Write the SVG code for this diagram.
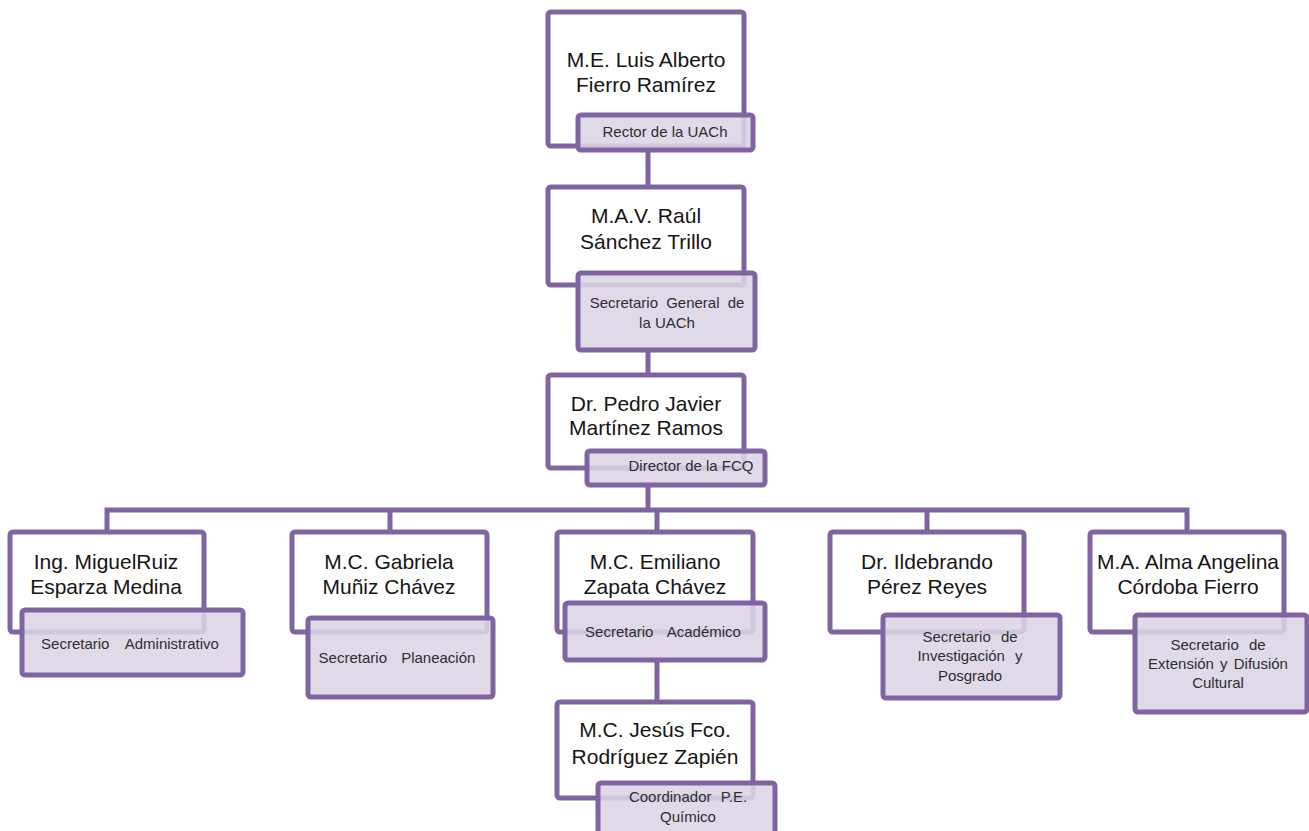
<svg xmlns="http://www.w3.org/2000/svg" width="1309" height="831" viewBox="0 0 1309 831">
<style>
.box{fill:#ffffff;stroke:#8064a2;stroke-width:5}
.lbl{fill:#dcd5e5;fill-opacity:0.88;stroke:#8064a2;stroke-width:5}
.name{font-family:"Liberation Sans",Arial,sans-serif;font-size:21px;fill:#151515;text-anchor:middle}
.sub{font-family:"Liberation Sans",Arial,sans-serif;font-size:15px;fill:#2e2e2e;text-anchor:middle}
.con{fill:none;stroke:#8064a2;stroke-width:5}
</style>
<rect width="1309" height="831" fill="#ffffff"/>
<g id="connectors">
<line class="con" x1="648" y1="148" x2="648" y2="187"/>
<line class="con" x1="648" y1="350" x2="648" y2="375"/>
<line class="con" x1="648" y1="485" x2="648" y2="510"/>
<polyline class="con" points="107,532 107,510 1187,510 1187,532"/>
<line class="con" x1="390" y1="510" x2="390" y2="532"/>
<line class="con" x1="657" y1="510" x2="657" y2="532"/>
<line class="con" x1="927" y1="510" x2="927" y2="532"/>
<line class="con" x1="657" y1="660" x2="657" y2="702"/>
</g>
<g id="rector">
<rect class="box" x="548" y="12" width="196" height="134" rx="3"/>
<rect class="lbl" x="578" y="115" width="175" height="35" rx="3"/>
<text class="name" x="646" y="67">M.E. Luis Alberto</text>
<text class="name" x="646" y="92">Fierro Ramírez</text>
<text class="sub" x="665" y="137">Rector de la UACh</text>
</g>
<g id="secretario-general">
<rect class="box" x="548" y="187" width="196" height="98" rx="3"/>
<rect class="lbl" x="578" y="273" width="177" height="77" rx="3"/>
<text class="name" x="646" y="223">M.A.V. Raúl</text>
<text class="name" x="646" y="249">Sánchez Trillo</text>
<text class="sub" x="667" y="308" word-spacing="4">Secretario General de</text>
<text class="sub" x="667" y="328">la UACh</text>
</g>
<g id="director">
<rect class="box" x="548" y="375" width="196" height="93" rx="3"/>
<rect class="lbl" x="587" y="451" width="178" height="34" rx="3"/>
<text class="name" x="646" y="411">Dr. Pedro Javier</text>
<text class="name" x="646" y="435">Martínez Ramos</text>
<text class="sub" x="691" y="471">Director de la FCQ</text>
</g>
<g id="administrativo">
<rect class="box" x="10" y="532" width="194" height="100" rx="3"/>
<rect class="lbl" x="22" y="610" width="221" height="65" rx="3"/>
<text class="name" x="106" y="569">Ing. MiguelRuiz</text>
<text class="name" x="106" y="594">Esparza Medina</text>
<text class="sub" x="130" y="649" word-spacing="12">Secretario Administrativo</text>
</g>
<g id="planeacion">
<rect class="box" x="292" y="532" width="195" height="100" rx="3"/>
<rect class="lbl" x="308" y="618" width="185" height="79" rx="3"/>
<text class="name" x="389" y="569">M.C. Gabriela</text>
<text class="name" x="389" y="594">Muñiz Chávez</text>
<text class="sub" x="397" y="663" word-spacing="10">Secretario Planeación</text>
</g>
<g id="academico">
<rect class="box" x="557" y="532" width="196" height="100" rx="3"/>
<rect class="lbl" x="565" y="603" width="200" height="57" rx="3"/>
<text class="name" x="655" y="569">M.C. Emiliano</text>
<text class="name" x="655" y="594">Zapata Chávez</text>
<text class="sub" x="663" y="637" word-spacing="10">Secretario Académico</text>
</g>
<g id="investigacion">
<rect class="box" x="830" y="532" width="194" height="100" rx="3"/>
<rect class="lbl" x="883" y="615" width="177" height="83" rx="3"/>
<text class="name" x="927" y="569">Dr. Ildebrando</text>
<text class="name" x="927" y="594">Pérez Reyes</text>
<text class="sub" x="970" y="642" word-spacing="6">Secretario de</text>
<text class="sub" x="970" y="661" word-spacing="6">Investigación y</text>
<text class="sub" x="970" y="681">Posgrado</text>
</g>
<g id="extension">
<rect class="box" x="1090" y="532" width="194" height="100" rx="3"/>
<rect class="lbl" x="1135" y="615" width="172" height="97" rx="3"/>
<text class="name" x="1188" y="569">M.A. Alma Angelina</text>
<text class="name" x="1188" y="594">Córdoba Fierro</text>
<text class="sub" x="1218" y="650" word-spacing="6">Secretario de</text>
<text class="sub" x="1218" y="669" word-spacing="2">Extensión y Difusión</text>
<text class="sub" x="1218" y="688">Cultural</text>
</g>
<g id="coordinador">
<rect class="box" x="557" y="702" width="196" height="96" rx="3"/>
<rect class="lbl" x="598" y="783" width="177" height="52" rx="3"/>
<text class="name" x="655" y="737">M.C. Jesús Fco.</text>
<text class="name" x="655" y="764">Rodríguez Zapién</text>
<text class="sub" x="688" y="802" word-spacing="5">Coordinador P.E.</text>
<text class="sub" x="688" y="822">Químico</text>
</g>
</svg>
